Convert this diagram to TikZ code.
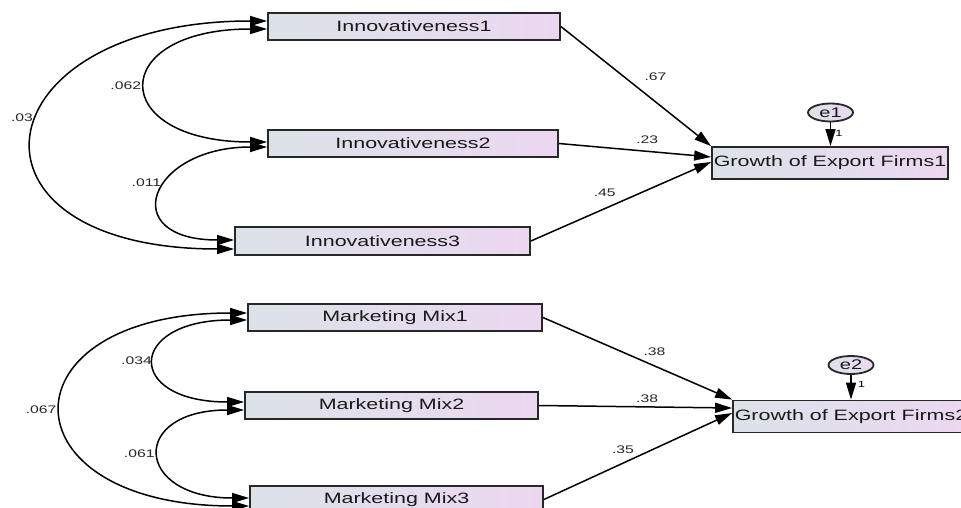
\documentclass[tikz,border=0pt]{standalone}
\usepackage{fontspec}
\setmainfont{Liberation Sans}[FakeStretch=1.43]
\usepackage{tikz}
\usetikzlibrary{arrows.meta, positioning, shapes.geometric}
\definecolor{boxleft}{RGB}{219,227,232}
\definecolor{boxright}{RGB}{236,215,241}
\definecolor{boxline}{RGB}{40,40,40}

\begin{document}
\begin{tikzpicture}[
            x=1pt, y=-1pt,
            box/.style={rectangle, draw=boxline, line width=1.8pt, left color=boxleft, right color=boxright, minimum height=27pt, inner sep=0pt, text=black!90, font=\fontsize{15}{18}\selectfont},
            err/.style={ellipse, draw=boxline, line width=1.8pt, left color=boxleft, right color=boxright, minimum width=45pt, minimum height=18pt, inner sep=0pt, text=black!90, font=\fontsize{14}{16}\selectfont},
            arrow/.style={-{Triangle[length=17pt, width=10pt]}, line width=1.5pt},
            cov/.style={{Triangle[length=17pt, width=10pt]}-{Triangle[length=17pt, width=10pt]}, line width=1.5pt},
            coef/.style={inner sep=0pt, text=black!85, font=\fontsize{11}{13}\selectfont},
            one/.style={inner sep=0pt, font=\fontsize{9}{10}\selectfont}
        ]
            \useasboundingbox (0,0) rectangle (961,508);
            \clip (0,0) rectangle (961,508);

            \node[box, minimum width=292pt] (inno1) at (414,26.5) {Innovativeness1};
            \node[box, minimum width=290pt] (inno2) at (413,143.5) {Innovativeness2};
            \node[box, minimum width=295pt, minimum height=28pt] (inno3) at (382.5,241) {Innovativeness3};
            \node[box, minimum width=236pt, minimum height=32pt] (growth1) at (830,163) {Growth of Export Firms1};
            \node[err] (e1) at (830.5,112.5) {e1};
            \draw[arrow] (e1) -- node[one, pos=0.45, right=4pt] {1} (e1 |- growth1.north);
            \draw[arrow] (inno1.east) -- node[coef, pos=0.63, above=20pt] {.67} (growth1.north west);
            \draw[arrow] (inno2.east) -- node[coef, pos=0.58, above=7pt] {.23} ([yshift=6pt]growth1.west);
            \draw[arrow] (inno3.east) -- node[coef, pos=0.41, above=11pt] {.45} ([yshift=1pt]growth1.west);
            \draw[cov] ([yshift=5.5pt]inno1.west) to[out=180, in=180, looseness=3.21] node[coef, pos=0.45, left=5pt] {.03} ([yshift=-8pt]inno3.west);
            \draw[cov] ([yshift=-2.5pt]inno1.west) to[out=180, in=180, looseness=3.64] node[coef, left=5pt] {.062} ([yshift=1.5pt]inno2.west);
            \draw[cov] ([yshift=-3.5pt]inno2.west) to[out=180, in=180, looseness=3.08] node[coef, pos=0.42, left=6pt] {.011} ([yshift=1pt]inno3.west);

            \node[box, minimum width=294pt] (mix1) at (395,317.5) {Marketing Mix1};
            \node[box, minimum width=293pt] (mix2) at (391.5,405.5) {Marketing Mix2};
            \node[box, minimum width=293pt] (mix3) at (396.5,499.5) {Marketing Mix3};
            \node[box, minimum width=236pt, minimum height=32pt] (growth2) at (851,416.5) {Growth of Export Firms2};
            \node[err] (e2) at (851,365) {e2};
            \draw[arrow] (e2) -- node[one, pos=0.37, right=6pt] {1} (e2 |- growth2.north);
            \draw[arrow] (mix1.east) -- node[coef, pos=0.59, above=10pt] {.38} (growth2.north west);
            \draw[arrow] (mix2.east) -- node[coef, pos=0.56, above=4pt] {.38} ([yshift=8.5pt]growth2.west);
            \draw[arrow] (mix3.east) -- node[coef, pos=0.42, above=9pt] {.35} ([yshift=3.5pt]growth2.west);
            \draw[cov] ([yshift=4.5pt]mix1.west) to[out=180, in=180, looseness=3.28] node[coef, left=5pt] {.067} ([yshift=-6.5pt]mix3.west);
            \draw[cov] ([yshift=-2.5pt]mix1.west) to[out=180, in=180, looseness=3.74] node[coef, left=3pt] {.034} ([yshift=3.5pt]mix2.west);
            \draw[cov] ([yshift=-4.5pt]mix2.west) to[out=180, in=180, looseness=3.34] node[coef, left=5pt] {.061} ([yshift=1.5pt]mix3.west);
        \end{tikzpicture}
\end{document}
